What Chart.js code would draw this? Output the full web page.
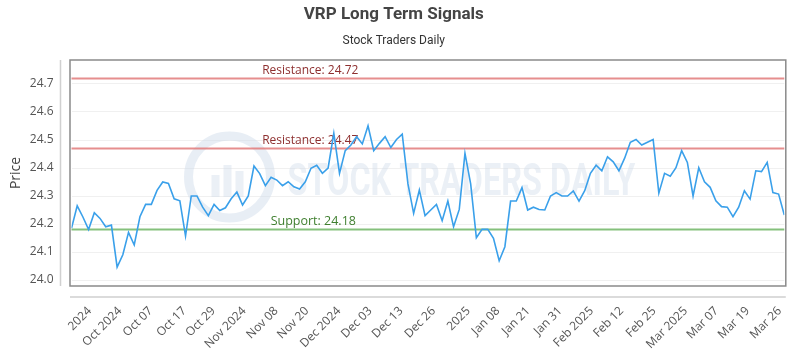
<!DOCTYPE html>
<html>
<head>
<meta charset="utf-8">
<script src="https://cdn.jsdelivr.net/npm/chart.js@4.4.1/dist/chart.umd.min.js"></script>
<style>
  html, body { margin: 0; padding: 0; background: #ffffff; }
  #wrap { width: 800px; height: 350px; }
</style>
</head>
<body>
<div id="wrap"><canvas id="c" width="800" height="350"></canvas></div>
<script>
// ---- data ----
const prices = [
  24.185, 24.265, 24.225, 24.18, 24.24, 24.22, 24.19, 24.196, 24.046, 24.09,
  24.17, 24.125, 24.226, 24.27, 24.27, 24.32, 24.35, 24.345, 24.29, 24.283,
  24.157, 24.30, 24.30, 24.26, 24.23, 24.27, 24.248, 24.258, 24.29, 24.314,
  24.268, 24.30, 24.407, 24.38, 24.337, 24.367, 24.357, 24.337, 24.351, 24.333,
  24.325, 24.351, 24.399, 24.41, 24.381, 24.40, 24.524, 24.381, 24.462, 24.482,
  24.512, 24.486, 24.551, 24.462, 24.488, 24.512, 24.473, 24.502, 24.521, 24.343,
  24.238, 24.321, 24.23, 24.25, 24.27, 24.212, 24.282, 24.19, 24.252, 24.452,
  24.343, 24.151, 24.181, 24.181, 24.149, 24.069, 24.119, 24.282, 24.282, 24.33,
  24.25, 24.26, 24.252, 24.25, 24.30, 24.312, 24.30, 24.30, 24.318, 24.282,
  24.319, 24.381, 24.41, 24.39, 24.44, 24.422, 24.39, 24.435, 24.492, 24.502,
  24.482, 24.492, 24.502, 24.31, 24.381, 24.371, 24.401, 24.462, 24.42, 24.30,
  24.401, 24.351, 24.331, 24.283, 24.262, 24.26, 24.226, 24.26, 24.319, 24.289,
  24.39, 24.387, 24.42, 24.312, 24.307, 24.232
];
const tickLabels = ["2024", "Oct 2024", "Oct 07", "Oct 17", "Oct 29", "Nov 2024", "Nov 08", "Nov 20",
  "Dec 2024", "Dec 03", "Dec 13", "Dec 26", "2025", "Jan 08", "Jan 21", "Jan 31", "Feb 2025",
  "Feb 12", "Feb 25", "Mar 2025", "Mar 07", "Mar 19", "Mar 26"];
// position of each tick label along the series (point index)
const tickIndex = [3.2, 8.5, 13.9, 19.8, 24.9, 30.3, 35.9, 41.3, 46.9, 52.4, 57.8, 63.5,
  69.6, 74.8, 80.1, 85.7, 91.2, 96.5, 102.2, 107.7, 113.1, 118.6, 124.2];
const resistanceLevels = [24.72, 24.47];
const supportLevels = [24.18];
const yMin = 23.9786, yMax = 24.7857;

const FONT = "'Open Sans', 'Noto Sans', sans-serif";

const levelsPlugin = {
  id: 'levels',
  beforeDatasetsDraw(chart) {
    const {ctx, chartArea: a, scales: {y}} = chart;
    ctx.save();
    // watermark
    const cy = (a.top + a.bottom) / 2 + 4;
    ctx.strokeStyle = 'rgba(205,218,232,0.45)';
    ctx.lineWidth = 9;
    ctx.beginPath();
    ctx.arc(a.left + 158, cy, 41, 0, Math.PI * 2);
    ctx.stroke();
    ctx.fillStyle = 'rgba(205,218,232,0.40)';
    ctx.fillRect(a.left + 140, cy - 2, 8, 22);
    ctx.fillRect(a.left + 152, cy - 12, 8, 32);
    ctx.fillRect(a.left + 164, cy - 6, 8, 26);
    ctx.save();
    ctx.font = "bold 45px Roboto";
    ctx.textAlign = 'left';
    ctx.textBaseline = 'alphabetic';
    ctx.translate(a.left + 216, cy + 18);
    ctx.scale(0.72, 1);
    ctx.fillText('STOCK TRADERS DAILY', 0, 0);
    ctx.restore();

    const labX = a.left + 0.335 * (a.right - a.left);
    ctx.font = "12px " + FONT;
    ctx.textAlign = 'center';
    ctx.textBaseline = 'bottom';
    resistanceLevels.forEach(v => {
      const py = y.getPixelForValue(v);
      ctx.strokeStyle = 'rgba(226,122,122,0.85)';
      ctx.lineWidth = 2;
      ctx.beginPath(); ctx.moveTo(a.left, py); ctx.lineTo(a.right, py); ctx.stroke();
      ctx.fillStyle = '#8e2f2f';
      ctx.fillText('Resistance: ' + v.toFixed(2), labX, py - 2);
    });
    supportLevels.forEach(v => {
      const py = y.getPixelForValue(v);
      ctx.strokeStyle = 'rgba(120,185,110,0.9)';
      ctx.lineWidth = 2;
      ctx.beginPath(); ctx.moveTo(a.left, py); ctx.lineTo(a.right, py); ctx.stroke();
      ctx.fillStyle = '#3f7f2f';
      ctx.font = "12.5px " + FONT;
      ctx.fillText('Support: ' + v.toFixed(2), labX + 3, py - 2);
    });
    ctx.restore();
  },
  afterDraw(chart) {
    const {ctx, chartArea: a} = chart;
    ctx.save();
    ctx.strokeStyle = '#8a8a8a';
    ctx.lineWidth = 1.5;
    ctx.strokeRect(a.left - 1.5, a.top, a.right - a.left + 3, a.bottom - a.top);
    ctx.strokeStyle = '#d0d0d0';
    ctx.lineWidth = 1.5;
    ctx.beginPath();
    ctx.moveTo(a.left - 11, a.top); ctx.lineTo(a.left - 11, a.bottom);
    ctx.moveTo(a.left - 1.5, a.bottom + 11); ctx.lineTo(a.right + 1.5, a.bottom + 11);
    ctx.stroke();
    ctx.restore();
  }
};

new Chart(document.getElementById('c'), {
  type: 'line',
  data: {
    datasets: [{
      data: prices.map((v, i) => ({x: i, y: v})),
      borderColor: '#3aa0ea',
      borderWidth: 1.6,
      pointRadius: 0,
      tension: 0,
      fill: false
    }]
  },
  options: {
    responsive: false,
    animation: false,
    devicePixelRatio: 1,
    layout: { padding: { left: 0, right: 12.5, top: 0, bottom: 0 } },
    plugins: {
      legend: { display: false },
      tooltip: { enabled: false },
      title: {
        display: true,
        text: 'VRP Long Term Signals',
        color: '#444',
        font: { family: "Roboto, sans-serif", size: 17, weight: 'bold' },
        padding: { top: 5, bottom: 8 }
      },
      subtitle: {
        display: true,
        text: 'Stock Traders Daily',
        color: '#333',
        font: { family: "Roboto, sans-serif", size: 12 },
        padding: { top: 0, bottom: 12.2 }
      }
    },
    scales: {
      x: {
        type: 'linear',
        min: 0,
        max: prices.length - 1,
        afterBuildTicks: s => { s.ticks = tickIndex.map(v => ({value: v})); },
        afterFit: s => { s.height = 64; },
        grid: { display: false },
        border: { display: false },
        ticks: {
          autoSkip: false,
          minRotation: 45,
          maxRotation: 45,
          padding: 10,
          color: '#555',
          font: { family: FONT, size: 12 },
          callback: (v, i) => tickLabels[i]
        }
      },
      y: {
        min: yMin,
        max: yMax,
        afterFit: s => { s.width = 71.5; },
        grid: { color: 'rgba(0,0,0,0.06)', drawTicks: false },
        border: { display: false },
        title: {
          display: true,
          text: 'Price',
          color: '#444',
          font: { family: FONT, size: 14 },
          padding: { top: 8, bottom: 0 }
        },
        ticks: {
          stepSize: 0.1,
          includeBounds: false,
          padding: 18,
          color: '#555',
          font: { family: FONT, size: 12 },
          callback: v => v.toFixed(1)
        }
      }
    }
  },
  plugins: [levelsPlugin]
});
</script>
</body>
</html>
